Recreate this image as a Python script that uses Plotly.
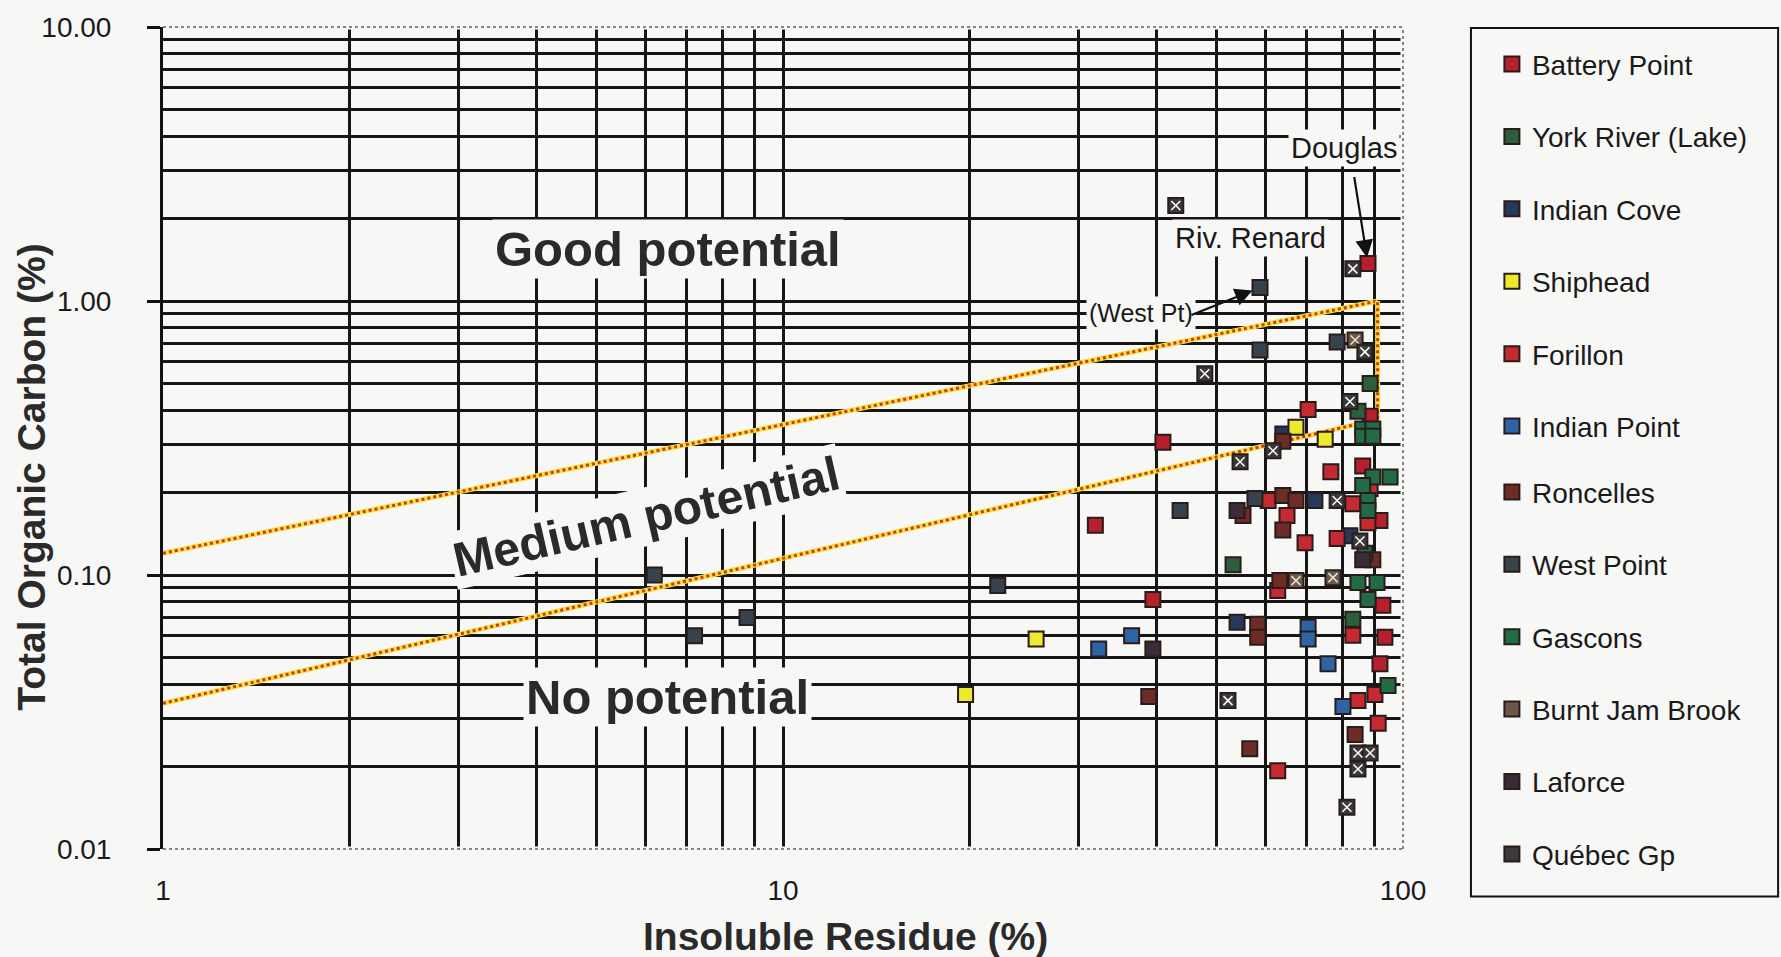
import plotly.graph_objects as go
import numpy as np

# ---- samples: insoluble residue (%) vs total organic carbon (%) ----
battery_point_ir = [31.9, 39.5, 41.0, 87.8, 88.5, 86.1, 91.8, 92.8, 93.5, 91.8]
battery_point_toc = [0.152, 0.0814, 0.305, 1.37, 0.380, 0.250, 0.158, 0.0775, 0.0593, 0.0474]

york_river_ir = [53.2, 84.6, 88.5, 83.0]
york_river_toc = [0.109, 0.396, 0.50, 0.069]

indian_cove_ir = [64.0, 54.0, 72.1, 82.1]
indian_cove_toc = [0.327, 0.0672, 0.187, 0.139]

shiphead_ir = [19.7, 25.6, 67.2, 74.9]
shiphead_toc = [0.0366, 0.0584, 0.346, 0.313]

forillon_ir = [70.3, 76.5, 88.5, 60.6, 83.0, 65.0, 87.8, 69.5, 78.3, 62.8, 83.0, 90.1, 84.6, 91.2, 62.8]
forillon_toc = [0.402, 0.238, 0.207, 0.187, 0.182, 0.165, 0.155, 0.131, 0.136, 0.0878, 0.0603, 0.0366,
                0.0348, 0.0288, 0.0193]

indian_point_ir = [32.3, 36.5, 70.3, 70.3, 75.7, 80.0]
indian_point_toc = [0.0537, 0.060, 0.0645, 0.0584, 0.0474, 0.0331]

roncelles_ir = [64.0, 64.0, 67.2, 55.2, 64.0, 63.3, 58.3, 58.3, 38.9, 56.6, 83.7, 89.4]
roncelles_toc = [0.308, 0.195, 0.187, 0.165, 0.146, 0.0954, 0.0661, 0.0593, 0.036, 0.0232, 0.0262, 0.1136]

west_point_ir = [6.2, 7.2, 8.75, 22.2, 43.7, 58.8, 58.8, 78.3, 57.7]
west_point_toc = [0.100, 0.060, 0.070, 0.0915, 0.172, 1.12, 0.663, 0.709, 0.190]

gascons_ir = [86.1, 89.4, 86.1, 89.4, 89.4, 95.3, 86.1, 87.8, 87.8, 86.8, 84.6, 90.8, 87.8, 94.6]
gascons_toc = [0.341, 0.341, 0.321, 0.321, 0.228, 0.228, 0.212, 0.187, 0.172, 0.120, 0.0938, 0.0938,
               0.0814, 0.0395]

burnt_jam_ir = [83.7, 67.2, 77.1]
burnt_jam_toc = [0.72, 0.0954, 0.0978]

laforce_ir = [54.0, 39.5, 86.1]
laforce_toc = [0.172, 0.0537, 0.1136]

quebec_ir = [43.0, 83.0, 86.8, 47.9, 82.1, 61.7, 54.6, 78.3, 85.2, 52.2, 84.6, 88.5, 84.6, 81.2]
quebec_toc = [2.23, 1.31, 0.652, 0.543, 0.430, 0.284, 0.259, 0.187, 0.133, 0.0348, 0.0224, 0.0224,
              0.0196, 0.0142]

# ---- potential boundaries ----
good_ir = [1, 91]
good_toc = [0.12, 1.0]
medium_ir = [1, 91]
medium_toc = [0.034, 0.37]
edge_ir = [91, 91]
edge_toc = [0.37, 1.0]

# ---- axis ticks ----
x_major = [1, 10, 100]
x_major_text = ["1", "10", "100"]
x_minor = [2, 3, 4, 5, 6, 7, 8, 9, 20, 30, 40, 50, 60, 70, 80, 90]
y_major = [0.01, 0.1, 1, 10]
y_major_text = ["0.01", "0.10", "1.00", "10.00"]
y_minor = [0.02, 0.03, 0.04, 0.05, 0.06, 0.07, 0.08, 0.09,
           0.2, 0.3, 0.4, 0.5, 0.6, 0.7, 0.8, 0.9,
           2, 3, 4, 5, 6, 7, 8, 9]

FONT = "Arial, Liberation Sans, Helvetica, sans-serif"
BG = "#f7f7f5"
EDGE = "#2a1c1c"
GRID = "#161616"

groups = [
    ("Battery Point", battery_point_ir, battery_point_toc, "#b5202c", None),
    ("York River (Lake)", york_river_ir, york_river_toc, "#2d5e3a", None),
    ("Indian Cove", indian_cove_ir, indian_cove_toc, "#27395a", None),
    ("Shiphead", shiphead_ir, shiphead_toc, "#ecea2c", None),
    ("Forillon", forillon_ir, forillon_toc, "#c42a30", None),
    ("Indian Point", indian_point_ir, indian_point_toc, "#2c64a6", None),
    ("Roncelles", roncelles_ir, roncelles_toc, "#6e2c26", None),
    ("West Point", west_point_ir, west_point_toc, "#36424c", None),
    ("Gascons", gascons_ir, gascons_toc, "#226b45", None),
    ("Burnt Jam Brook", burnt_jam_ir, burnt_jam_toc, "#6b5846", "#e8e0d0"),
    ("Laforce", laforce_ir, laforce_toc, "#3b2a38", None),
    ("Québec Gp", quebec_ir, quebec_toc, "#3a3a3a", "#ffffff"),
]

fig = go.Figure()

# boundary lines: yellow band with red dots
for lx, ly in [(good_ir, good_toc), (medium_ir, medium_toc), (edge_ir, edge_toc)]:
    fig.add_trace(go.Scatter(x=lx, y=ly, mode="lines", showlegend=False, hoverinfo="skip",
                             line=dict(color="#f2e43a", width=5)))
    fig.add_trace(go.Scatter(x=lx, y=ly, mode="lines", showlegend=False, hoverinfo="skip",
                             line=dict(color="#d2342a", width=3, dash="dot")))

# the legend is split in two stacks of six so neither is height-limited
for i, (name, xs, ys, color, hatch) in enumerate(groups):
    legend_id = "legend" if i < 6 else "legend2"
    fig.add_trace(go.Scatter(
        x=xs, y=ys, mode="markers", name=name, legendgroup=f"g{i}", legend=legend_id,
        marker=dict(symbol="square", size=15, color=color, line=dict(color=EDGE, width=2)),
    ))
    if hatch:
        fig.add_trace(go.Scatter(
            x=xs, y=ys, mode="markers", showlegend=False, legendgroup=f"g{i}", legend=legend_id,
            hoverinfo="skip",
            marker=dict(symbol="x-thin", size=9, color=hatch, line=dict(color=hatch, width=1.5)),
        ))

dotted = dict(color="#858585", width=2, dash="dot")
cover = dict(color=BG, width=5)
shapes = [
    # dotted frame on top, right and bottom (laid over the solid end grid lines)
    dict(type="line", xref="paper", yref="paper", x0=0.003, x1=1, y0=1, y1=1, line=cover, layer="above"),
    dict(type="line", xref="paper", yref="paper", x0=0.003, x1=1, y0=0, y1=0, line=cover, layer="above"),
    dict(type="line", xref="paper", yref="paper", x0=1, x1=1, y0=0, y1=1, line=cover, layer="above"),
    dict(type="line", xref="paper", yref="paper", x0=0, x1=1, y0=1, y1=1, line=dotted, layer="above"),
    dict(type="line", xref="paper", yref="paper", x0=1, x1=1, y0=0, y1=1, line=dotted, layer="above"),
    dict(type="line", xref="paper", yref="paper", x0=0, x1=1, y0=0, y1=0, line=dotted, layer="above"),
    # legend frame
    dict(type="rect", xref="paper", yref="paper", x0=1.0548, x1=1.3025, y0=-0.0578, y1=0.9988,
         line=dict(color="#111111", width=2)),
]

label_font = dict(family=FONT, size=49, color="#2a2a2a", weight="bold")
small_font = dict(family=FONT, size=29, color="#1a1a1a")
centered = dict(xanchor="center", yanchor="middle", showarrow=False)
annotations = [
    dict(text="Good potential", xref="paper", yref="paper", x=0.4073, y=0.730,
         font=label_font, bgcolor=BG, borderpad=2, **centered),
    dict(text="Medium potential", xref="paper", yref="paper", x=0.3903, y=0.4040,
         font=dict(family=FONT, size=48, color="#2a2a2a", weight="bold"), textangle=-13,
         bgcolor=BG, borderpad=2, **centered),
    dict(text="No potential", xref="paper", yref="paper", x=0.4065, y=0.1848,
         font=label_font, bgcolor=BG, borderpad=2, **centered),
    dict(text="Douglas", xref="paper", yref="paper", x=0.9524, y=0.853,
         font=small_font, bgcolor=BG, borderpad=2, **centered),
    dict(text="Riv. Renard", xref="paper", yref="paper", x=0.8774, y=0.743,
         font=small_font, bgcolor=BG, borderpad=2, **centered),
    dict(text="(West Pt)", xref="paper", yref="paper", x=0.7887, y=0.6525,
         font=dict(family=FONT, size=25, color="#1a1a1a"), bgcolor=BG, borderpad=2, **centered),
    # arrows to the labelled samples
    dict(text="", x=np.log10(battery_point_ir[3]), y=np.log10(battery_point_toc[3]),
         xref="x", yref="y", ax=-14, ay=-88, axref="pixel", ayref="pixel", showarrow=True,
         arrowhead=2, arrowsize=1.6, arrowwidth=2.2, arrowcolor="#111111", standoff=6),
    dict(text="", x=np.log10(west_point_ir[5]), y=np.log10(west_point_toc[5]),
         xref="x", yref="y", ax=-70, ay=28, axref="pixel", ayref="pixel", showarrow=True,
         arrowhead=2, arrowsize=1.6, arrowwidth=2.2, arrowcolor="#111111", standoff=8),
    # axis titles
    dict(text="Insoluble Residue (%)", xref="paper", yref="paper", x=0.5508, y=-0.106,
         font=dict(family=FONT, size=39, color="#2a2a2a", weight="bold"), **centered),
    dict(text="Total Organic Carbon (%)", xref="paper", yref="paper", x=-0.1056, y=0.4518,
         textangle=-90, font=dict(family=FONT, size=39, color="#2a2a2a", weight="bold"), **centered),
]

legend_style = dict(xanchor="left", yanchor="top", traceorder="grouped", tracegroupgap=33,
                    bgcolor="rgba(0,0,0,0)", borderwidth=0, itemwidth=30,
                    font=dict(family=FONT, size=28, color="#1a1a1a"))

fig.update_layout(
    width=1781, height=957,
    margin=dict(l=163, r=378, t=19, b=108),
    paper_bgcolor=BG, plot_bgcolor=BG,
    font=dict(family=FONT, size=28, color="#1a1a1a"),
    showlegend=True,
    legend=dict(x=1.0717, y=0.985, **legend_style),
    legend2=dict(x=1.0717, y=0.4645, **legend_style),
    shapes=shapes,
    annotations=annotations,
    xaxis=dict(type="log", range=[0, 2], tickvals=x_major, ticktext=x_major_text,
               showgrid=True, gridcolor=GRID, gridwidth=2.5, ticks="", showline=False,
               zeroline=False, ticklabelstandoff=22,
               tickfont=dict(family=FONT, size=28, color="#1a1a1a"),
               minor=dict(tickvals=x_minor, showgrid=True, gridcolor=GRID, gridwidth=2.5, ticks="")),
    yaxis=dict(type="log", range=[-2, 1], tickvals=y_major, ticktext=y_major_text,
               showgrid=True, gridcolor=GRID, gridwidth=2.5, ticks="outside", ticklen=13,
               tickwidth=3, tickcolor="#111111", showline=True, linecolor="#111111", linewidth=3,
               zeroline=False, ticklabelstandoff=30,
               tickfont=dict(family=FONT, size=28, color="#1a1a1a"),
               minor=dict(tickvals=y_minor, showgrid=True, gridcolor=GRID, gridwidth=2.5, ticks="")),
)

fig.write_html("out.html")
